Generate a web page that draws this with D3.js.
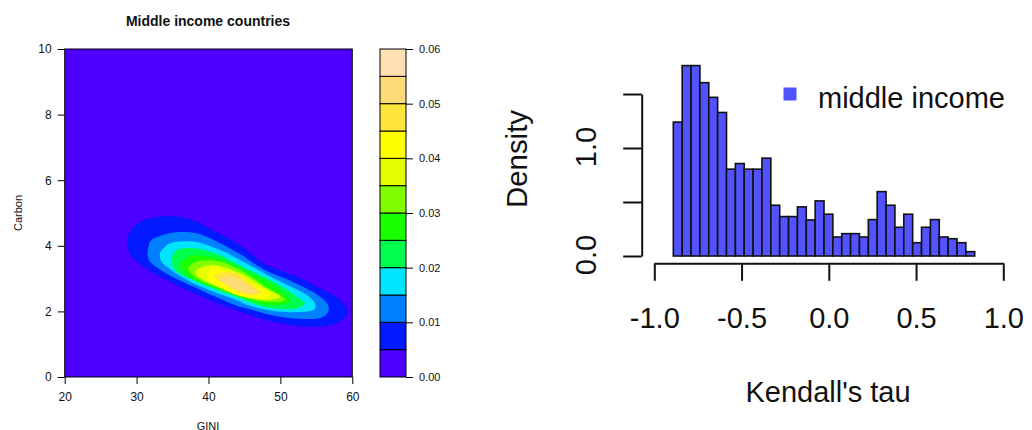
<!DOCTYPE html>
<html><head><meta charset="utf-8">
<script src="https://cdn.jsdelivr.net/npm/d3@7"></script>
<style>
body{margin:0;background:#fff}
svg{display:block}
text{font-family:"Liberation Sans",Arial,Helvetica,sans-serif}
</style>
</head><body>
<svg id="chart" width="1032" height="430"></svg>
<script>
// ---------------- DATA ----------------
// Left panel: filled contour (kernel density of GINI vs Carbon)
const giniTicks = [20, 30, 40, 50, 60];
const carbonTicks = [0, 2, 4, 6, 8, 10];
const levelBreaks = [0, 0.005, 0.01, 0.015, 0.02, 0.025, 0.03, 0.035, 0.04, 0.045, 0.05, 0.055, 0.06];
const levelColors = ["#4C00FF", "#0019FF", "#0080FF", "#00E5FF", "#00FF4D", "#1AFF00",
                     "#80FF00", "#E6FF00", "#FFFF00", "#FFE53B", "#FFDB77", "#FFE0B3"];
const levelTicks = [0, 0.01, 0.02, 0.03, 0.04, 0.05, 0.06];
const levelTickLabels = ["0.00", "0.01", "0.02", "0.03", "0.04", "0.05", "0.06"];

// contour boundaries [GINI, Carbon], one per density threshold
const contour005 = [[28.71,4.18],[29.08,4.43],[30.06,4.66],[30.93,4.77],[33.25,4.89],[35.58,4.89],[38.36,4.73],[40.21,4.53],[44.38,4.02],[47.62,3.47],[52.27,3.06],[55.97,2.65],[58.29,2.35],[59.26,2.07],[59.12,1.86],[57.83,1.64],[54.58,1.53],[49.95,1.64],[45.77,1.89],[40.21,2.35],[35.58,2.80],[31.86,3.24],[30.01,3.52],[29.08,3.75],[28.73,3.96]];
const contour010 = [[31.61,3.93],[31.93,4.15],[33.25,4.30],[35.58,4.41],[38.36,4.38],[41.60,4.08],[44.38,3.75],[47.62,3.29],[52.27,2.84],[55.51,2.45],[56.62,2.20],[56.66,1.99],[55.97,1.84],[54.58,1.77],[49.95,1.84],[45.31,2.09],[44.38,2.14],[37.89,2.75],[33.71,3.21],[31.86,3.52],[31.54,3.72]];
const contour015 = [[33.25,3.77],[33.95,3.97],[34.64,4.08],[37.89,4.13],[41.60,3.87],[44.38,3.57],[49.95,2.91],[53.66,2.50],[54.81,2.25],[54.88,2.13],[54.58,2.04],[49.95,1.99],[45.31,2.20],[44.38,2.30],[37.89,2.86],[34.19,3.36],[33.35,3.57]];
const contour020 = [[34.88,3.62],[35.58,3.87],[38.36,3.92],[41.60,3.72],[44.38,3.41],[49.95,2.80],[52.27,2.45],[53.42,2.25],[52.27,2.09],[47.62,2.14],[44.38,2.40],[38.82,2.86],[35.58,3.21],[34.97,3.41]];
const contour025 = [[36.04,3.41],[37.43,3.67],[40.21,3.67],[44.38,3.31],[49.95,2.65],[51.34,2.30],[48.56,2.20],[44.38,2.45],[40.21,2.75],[36.97,3.11]];
const contour030 = [[37.19,3.31],[38.36,3.52],[41.60,3.52],[44.38,3.26],[47.62,2.80],[50.64,2.35],[47.62,2.30],[42.53,2.65],[38.36,3.01]];
const contour035 = [[38.12,3.21],[40.21,3.41],[44.38,3.16],[47.62,2.74],[49.95,2.45],[47.62,2.35],[44.38,2.55],[39.28,2.96]];
const contour040 = [[39.82,3.16],[41.14,3.31],[45.31,2.91],[48.56,2.50],[45.77,2.40],[40.21,2.91]];
const contour045 = [[40.79,3.08],[43.30,3.20],[45.77,2.84],[47.44,2.56],[45.50,2.50],[41.90,2.87]];
const contour050 = [[41.60,2.99],[43.00,3.08],[46.00,2.74],[46.70,2.56],[44.40,2.62],[42.30,2.84]];

// Right panel: histogram of Kendall's tau
const tauTicks = [-1.0, -0.5, 0.0, 0.5, 1.0];
const tauTickLabels = ["-1.0", "-0.5", "0.0", "0.5", "1.0"];
const tauBinStart = -0.891;
const tauBinWidth = 0.0508;
const tauDensity = [1.240, 1.763, 1.763, 1.605, 1.469, 1.329, 0.804, 0.856, 0.804, 0.804,
                    0.906, 0.470, 0.365, 0.365, 0.455, 0.334, 0.510, 0.387, 0.176, 0.207,
                    0.207, 0.176, 0.337, 0.596, 0.470, 0.266, 0.387, 0.123, 0.266, 0.337,
                    0.176, 0.160, 0.123, 0.040];
const densityTicks = [0, 0.5, 1.0, 1.5];
const densityTickLabels = ["0.0", "", "1.0", ""];
const legendLabel = "middle income";

// ---------------- DRAW ----------------
const svg = d3.select("#chart");
const INK = "#111";

// ===== Left panel =====
const x1 = d3.scaleLinear().domain([20, 60]).range([64.7, 352.3]);
const y1 = d3.scaleLinear().domain([0, 10]).range([377, 49]);

svg.append("defs").append("clipPath").attr("id", "plotclip")
  .append("rect").attr("x", x1(20)).attr("y", y1(10))
  .attr("width", x1(60) - x1(20)).attr("height", y1(0) - y1(10));

const plot = svg.append("g").attr("clip-path", "url(#plotclip)");
plot.append("rect").attr("x", x1(20)).attr("y", y1(10))
  .attr("width", x1(60) - x1(20)).attr("height", y1(0) - y1(10))
  .attr("fill", levelColors[0]);

const contours = [contour005, contour010, contour015, contour020, contour025,
                  contour030, contour035, contour040, contour045, contour050];
const contourLine = d3.line()
  .x(d => x1(d[0])).y(d => y1(d[1]))
  .curve(d3.curveCatmullRomClosed.alpha(0.5));
plot.selectAll("path.band").data(contours).join("path")
  .attr("class", "band")
  .attr("d", d => contourLine(d))
  .attr("fill", (d, i) => levelColors[i + 1]);

svg.append("rect").attr("x", x1(20)).attr("y", y1(10))
  .attr("width", x1(60) - x1(20)).attr("height", y1(0) - y1(10))
  .attr("fill", "none").attr("stroke", "#000").attr("stroke-width", 1);

const axL = svg.append("g").attr("transform", `translate(${x1(20)},0)`)
  .call(d3.axisLeft(y1).tickValues(carbonTicks).tickFormat(d3.format("d")).tickSize(7).tickSizeOuter(0));
const axB = svg.append("g").attr("transform", `translate(0,${y1(0)})`)
  .call(d3.axisBottom(x1).tickValues(giniTicks).tickFormat(d3.format("d")).tickSize(7).tickSizeOuter(0));
[axL, axB].forEach(a => {
  a.select(".domain").remove();
  a.selectAll("line").attr("stroke", "#000");
  a.selectAll("text").attr("font-size", 12).attr("fill", INK).attr("font-family", null);
});
axL.selectAll("text").attr("x", -13);
axB.selectAll("text").attr("y", 15).attr("dy", "0.71em");

svg.append("text").attr("x", 208).attr("y", 25.7).attr("text-anchor", "middle")
  .attr("font-size", 14).attr("font-weight", "bold").attr("fill", INK)
  .text("Middle income countries");
svg.append("text").attr("x", 208).attr("y", 429.5).attr("text-anchor", "middle")
  .attr("font-size", 11).attr("fill", INK).text("GINI");
svg.append("text").attr("transform", `translate(21.5,${(y1(0) + y1(10)) / 2}) rotate(-90)`)
  .attr("text-anchor", "middle").attr("font-size", 11).attr("fill", INK).text("Carbon");

// colour key
const yk = d3.scaleLinear().domain([0, 0.06]).range([377, 49]);
const keyX0 = 380, keyX1 = 406;
svg.append("g").selectAll("rect").data(d3.pairs(levelBreaks)).join("rect")
  .attr("x", keyX0).attr("width", keyX1 - keyX0)
  .attr("y", d => yk(d[1])).attr("height", d => yk(d[0]) - yk(d[1]))
  .attr("fill", (d, i) => levelColors[i])
  .attr("stroke", "#000").attr("stroke-width", 1);
const axK = svg.append("g").attr("transform", `translate(${keyX1},0)`)
  .call(d3.axisRight(yk).tickValues(levelTicks).tickFormat((d, i) => levelTickLabels[i]).tickSize(7).tickSizeOuter(0));
axK.select(".domain").remove();
axK.selectAll("line").attr("stroke", "#000");
axK.selectAll("text").attr("font-size", 11).attr("fill", INK).attr("font-family", null).attr("x", 13);

// ===== Right panel =====
const x2 = d3.scaleLinear().domain([-1, 1]).range([654.3, 1003.3]);
const y2 = d3.scaleLinear().domain([0, 1.5]).range([256, 94]);

svg.append("g").selectAll("rect").data(tauDensity).join("rect")
  .attr("x", (d, i) => x2(tauBinStart + i * tauBinWidth))
  .attr("width", (d, i) => x2(tauBinStart + (i + 1) * tauBinWidth) - x2(tauBinStart + i * tauBinWidth))
  .attr("y", d => y2(d))
  .attr("height", d => y2(0) - y2(d))
  .attr("fill", "#5252FF").attr("stroke", "#111").attr("stroke-width", 1.6);

const axX2 = svg.append("g").attr("transform", "translate(0,263.3)")
  .call(d3.axisBottom(x2).tickValues(tauTicks).tickFormat((d, i) => tauTickLabels[i]).tickSize(17.5).tickSizeOuter(0));
axX2.select(".domain").attr("stroke", "#111").attr("stroke-width", 2);
axX2.selectAll("line").attr("stroke", "#111").attr("stroke-width", 2);
axX2.selectAll("text").attr("font-size", 29).attr("fill", INK).attr("font-family", null)
  .attr("y", 64.7).attr("dy", 0);

const axY2 = svg.append("g").attr("transform", "translate(641.7,0)")
  .call(d3.axisLeft(y2).tickValues(densityTicks).tickFormat((d, i) => densityTickLabels[i]).tickSize(18.5).tickSizeOuter(0));
axY2.select(".domain").attr("stroke", "#111").attr("stroke-width", 2);
axY2.selectAll("line").attr("stroke", "#111").attr("stroke-width", 2);
axY2.selectAll(".tick text").attr("font-size", 29).attr("fill", INK).attr("font-family", null)
  .attr("text-anchor", "middle").attr("x", 0).attr("y", 0).attr("dy", 0)
  .attr("transform", "translate(-45.5,-1.5) rotate(-90)");

svg.append("text").attr("x", 828).attr("y", 401.7).attr("text-anchor", "middle")
  .attr("font-size", 29).attr("fill", INK).text("Kendall's tau");
svg.append("text").attr("transform", "translate(527,159) rotate(-90)")
  .attr("text-anchor", "middle").attr("font-size", 29.4).attr("fill", INK).text("Density");

// legend
svg.append("rect").attr("x", 783.5).attr("y", 87.5).attr("width", 13).attr("height", 13)
  .attr("fill", "#5252FF");
svg.append("text").attr("x", 818).attr("y", 107.7).attr("font-size", 29).attr("fill", INK)
  .text(legendLabel);
</script>
</body></html>
